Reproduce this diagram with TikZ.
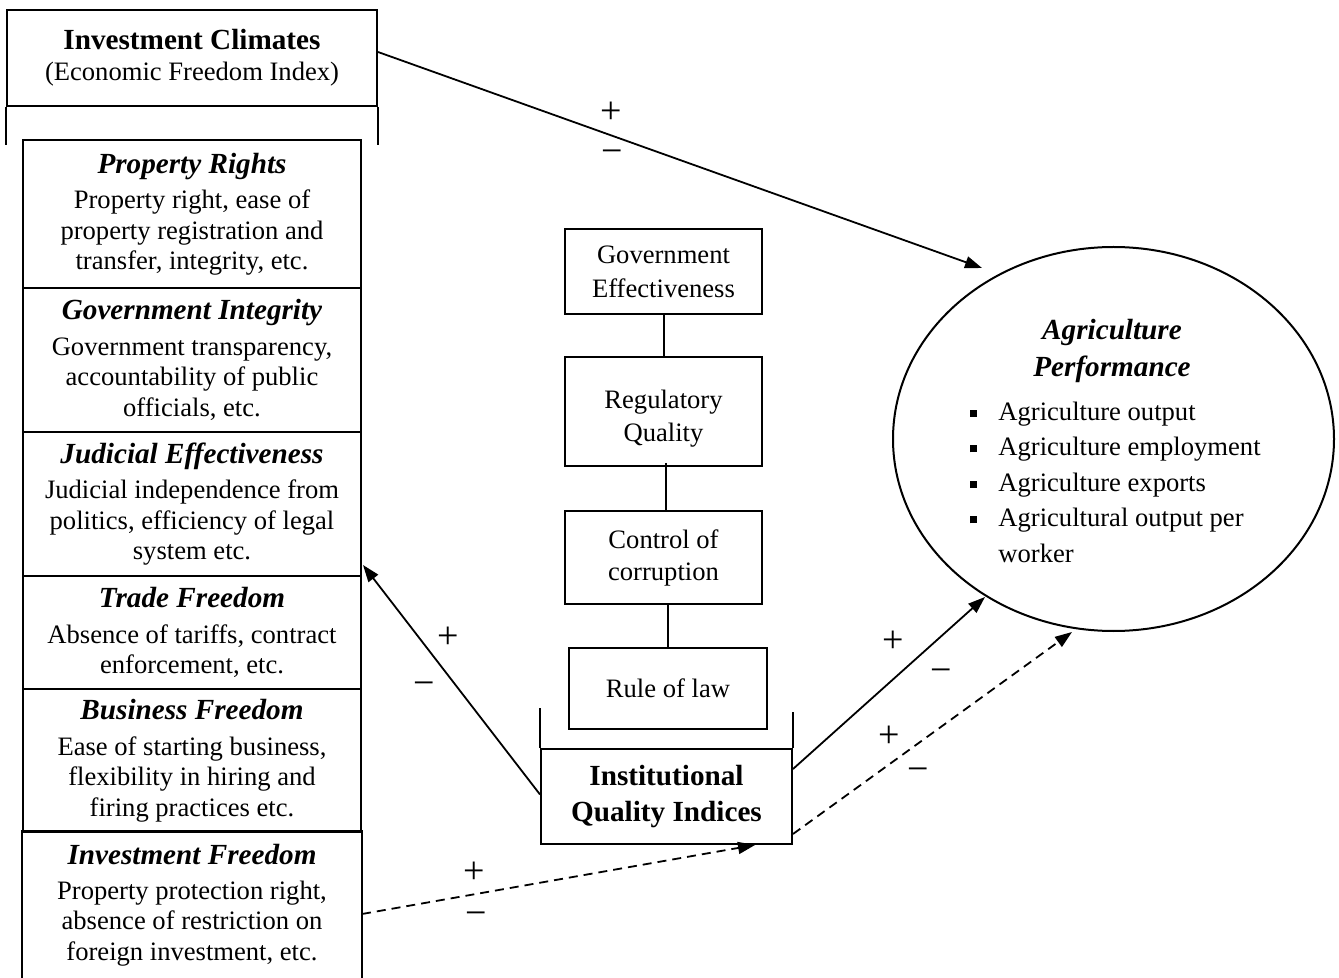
\documentclass[tikz,border=0pt]{standalone}
\usepackage{fontspec}
\setmainfont{Liberation Serif}
\usetikzlibrary{shapes.geometric,arrows.meta,calc}
\newcommand{\bodyf}{\fontsize{13.3}{15.25}\selectfont}
\newcommand{\headf}{\fontsize{14.6}{15.25}\selectfont\bfseries\itshape}
\newcommand{\hbf}{\fontsize{14.6}{15.5}\selectfont\bfseries}
\newcommand{\bul}{\makebox[14.25pt][l]{\raisebox{1.6pt}{\rule{3.6pt}{3.6pt}}}}
\begin{document}
\begin{tikzpicture}[x=0.5pt,y=-0.5pt,
  box/.style={draw, line width=1pt, inner sep=0pt, align=center, font=\bodyf, anchor=north west},
  arr/.style={line width=0.9pt, -{Triangle[length=8.5pt,width=6pt]}},
  dsh/.style={dash pattern=on 4.5pt off 3pt},
  sgn/.style={inner sep=0pt, font=\fontsize{19}{19}\selectfont, text height=0.5em, text depth=0pt},
  tick/.style={line width=1pt}]
\useasboundingbox (0,0) rectangle (1339,978);
\fill[white] (0,0) rectangle (1339,978);

% Investment climates
\node[box, minimum width=185pt, minimum height=48pt, font=\fontsize{13.3}{15.5}\selectfont] (ic) at (6,9)
  {{\hbf Investment Climates}\\ (Economic Freedom Index)};
\draw[tick] (ic.south west) -- ++(0,38);
\draw[tick] (ic.south east) -- ++(0,38);

% Left stack
\node[box, minimum width=169pt, minimum height=74pt] (prop) at (22,139)
  {{\headf Property Rights}\\[2.5pt] Property right, ease of\\ property registration and\\ transfer, integrity, etc.};
\node[box, minimum width=169pt, minimum height=72pt] (gint) at (22,287)
  {{\headf Government Integrity}\\[2.5pt] Government transparency,\\ accountability of public\\ officials, etc.};
\node[box, minimum width=169pt, minimum height=72pt] (judi) at (22,431)
  {{\headf Judicial Effectiveness}\\[2.5pt] Judicial independence from\\ politics, efficiency of legal\\ system etc.};
\node[box, minimum width=169pt, minimum height=56.5pt] (trade) at (22,575)
  {{\headf Trade Freedom}\\[2.5pt] Absence of tariffs, contract\\ enforcement, etc.};
\node[box, minimum width=169pt, minimum height=71.5pt] (bus) at (22,688)
  {{\headf Business Freedom}\\[2.5pt] Ease of starting business,\\ flexibility in hiring and\\ firing practices etc.};
\node[box, draw=none, minimum width=169pt, minimum height=73pt] (invf) at (22,831)
  {{\headf Investment Freedom}\\[2pt] Property protection right,\\ absence of restriction on\\ foreign investment, etc.};
\draw[tick] ($(invf.south west)+(0,30)$) -- (invf.north west) -- (invf.north east) -- ($(invf.south east)+(0,30)$);

% Middle column
\node[box, minimum width=98.5pt, minimum height=42.5pt, font=\fontsize{13.3}{17}\selectfont] (ge) at (564,228)
  {Government\\ Effectiveness};
\node[box, minimum width=98.5pt, minimum height=54.5pt, font=\fontsize{13.3}{16.5}\selectfont] (rq) at (564,356)
  {\raisebox{-3.5pt}[\height][\depth]{\begin{tabular}{@{}c@{}}Regulatory\\ Quality\end{tabular}}};
\node[box, minimum width=98.5pt, minimum height=46.5pt, font=\fontsize{13.3}{16}\selectfont] (cc) at (564,510)
  {Control of\\ corruption};
\node[box, minimum width=99pt, minimum height=40.5pt] (rl) at (568,647) {Rule of law};
\node[box, minimum width=125.5pt, minimum height=47.5pt, font=\fontsize{14.6}{18}\selectfont\bfseries] (iqi) at (540,748)
  {Institutional\\ Quality Indices};
\draw[tick] (iqi.north west) -- ++(0,-40);
\draw[tick] (iqi.north east) -- ++(0,-36);

\draw[line width=1pt] (ge) -- (rq);
\draw[line width=1pt] (rq.south -| cc.north) ++(2,-4) -- ($(cc.north)+(2,0)$);
\draw[line width=1pt] (rl.north) -- (rl.north |- cc.south);

% Ellipse
\node[draw, ellipse, line width=1pt, minimum width=220.5pt, minimum height=192pt, inner sep=0pt] (ap) at (1113.5,439) {};
\node[align=center, inner sep=0pt, font=\fontsize{14.6}{18.5}\selectfont\bfseries\itshape] (aph) at (1112,351)
  {Agriculture\\ Performance};
\node[align=left, inner sep=0pt, anchor=west, font=\fontsize{13.3}{17.75}\selectfont] (apl) at (969.5,482)
  {\bul Agriculture output\\ \bul Agriculture employment\\ \bul Agriculture exports\\ \bul Agricultural output per\\ \hspace*{14.25pt}worker};

% Connector end points
\coordinate (t1) at ($(ap.center)+(-131.5,-171)$);
\coordinate (t2) at ($(ap.center)+(-128.5,158)$);
\coordinate (t3) at ($(ap.center)+(-41.5,193)$);
\coordinate (t4) at ($(judi.south east)+(1,-12)$);
\coordinate (s1) at ($(ic.north east)+(0,43)$);
\coordinate (s2) at ($(iqi.north east)+(0,21)$);
\coordinate (s3) at ($(iqi.south east)+(0,-11)$);
\coordinate (s4) at ($(invf.north east)+(0,83)$);
\coordinate (t5) at ($(iqi.south west)+(215,0)$);
\coordinate (s5) at ($(iqi.west)+(0,-2)$);

\draw[arr] (s1) -- (t1);
\draw[arr] (s5) -- (t4);
\draw[arr] (s2) -- (t2);
\draw[arr, dsh] (s3) -- (t3);
\draw[arr, dsh] (s4) -- (t5);

% Signs
\node[sgn] (p1) at (611,119) {+};
\node[sgn] (m1) at (612,159) {−};
\node[sgn] (p2) at (448,643) {+};
\node[sgn] (m2) at (424,690) {−};
\node[sgn] (p3) at (893,647) {+};
\node[sgn] (m3) at (941,677) {−};
\node[sgn] (p4) at (889,742) {+};
\node[sgn] (m4) at (918,776) {−};
\node[sgn] (p5) at (474,878) {+};
\node[sgn] (m5) at (476,920) {−};
\end{tikzpicture}
\end{document}
